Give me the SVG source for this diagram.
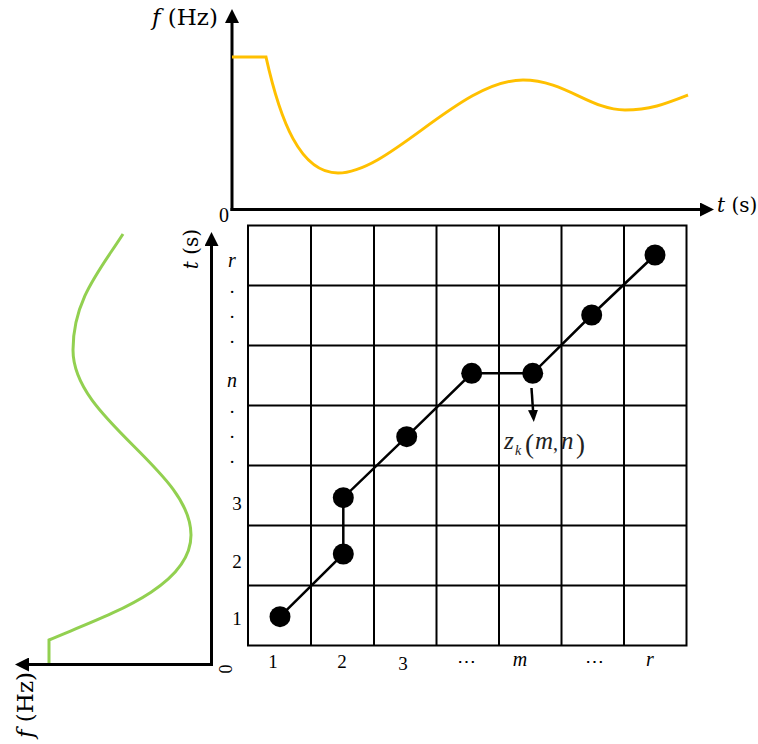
<svg xmlns="http://www.w3.org/2000/svg" width="758" height="744" viewBox="0 0 758 744">
<style>
.ax{stroke:#000;stroke-width:3;fill:none}
.grid{stroke:#000;stroke-width:2;fill:none}
.conn{stroke:#000;stroke-width:2.5;fill:none}
.dot{fill:#000}
.lbl{font-family:"DejaVu Serif","Liberation Serif",serif;font-size:20px;fill:#000}
.num{font-family:"Liberation Serif","Times New Roman",serif;font-size:19px;fill:#000}
.it{font-style:italic}
.z{font-family:"Liberation Serif",serif;fill:#222}
</style>
<defs>
<marker id="ah" viewBox="0 0 14 14" refX="0" refY="7" markerWidth="14" markerHeight="14" markerUnits="userSpaceOnUse" orient="auto">
<path d="M0,0 L14,7 L0,14 z" fill="#000"/>
</marker>
<marker id="sh" viewBox="0 0 12 10" refX="0" refY="5" markerWidth="12" markerHeight="10" markerUnits="userSpaceOnUse" orient="auto">
<path d="M0,0 L12,5 L0,10 z" fill="#000"/>
</marker>
</defs>
<rect width="758" height="744" fill="#fff"/>

<g id="top-chart">
<line class="ax" x1="232" y1="211" x2="232" y2="23" marker-end="url(#ah)"/>
<line class="ax" x1="230.5" y1="209.5" x2="700" y2="209.5" marker-end="url(#ah)"/>
<path d="M232,57 H266 C280,120 300,173 338,173 C390,173 460,80 523,80 C565,80 590,110 625,110 C650,110 665,104 688,95" stroke="#FFC000" stroke-width="3" fill="none"/>
<text class="lbl" x="152" y="25" style="font-size:23px"><tspan class="it">f</tspan> (Hz)</text>
<text class="num" x="224" y="222" text-anchor="middle" style="font-size:20px">0</text>
<text class="lbl" x="717" y="212"><tspan class="it">t</tspan> (s)</text>
</g>

<g id="left-chart">
<line class="ax" x1="211.5" y1="666" x2="211.5" y2="246" marker-end="url(#ah)"/>
<line class="ax" x1="213" y1="664.5" x2="29" y2="664.5" marker-end="url(#ah)"/>
<path d="M49,663 V640 C105,616 191,588 191,535 C191,470 73,420 73,350 C73,300 100,270 123,234" stroke="#92D050" stroke-width="3" fill="none"/>
<text class="lbl" transform="translate(198,249) rotate(-90)" text-anchor="middle"><tspan class="it">t</tspan> (s)</text>
<text class="lbl" transform="translate(33,705) rotate(-90)" text-anchor="middle" style="font-size:23px"><tspan class="it">f</tspan> (Hz)</text>
<text class="num" transform="translate(232,669) rotate(-90)" text-anchor="middle" style="font-size:18px">0</text>
</g>

<g id="grid">
<rect class="grid" x="248" y="225.5" width="438.5" height="420"/>
<path class="grid" d="M311,225.5V645.5 M374,225.5V645.5 M436.5,225.5V645.5 M499,225.5V645.5 M561.5,225.5V645.5 M624,225.5V645.5 M248,285.5H686.5 M248,345.5H686.5 M248,405.5H686.5 M248,465.5H686.5 M248,525.5H686.5 M248,585.5H686.5"/>
</g>

<g id="row-labels" class="num" text-anchor="middle">
<text class="it" x="232" y="267" font-size="20">r</text>
<text x="232" y="293">.</text>
<text x="232" y="318">.</text>
<text x="232" y="343">.</text>
<text class="it" x="232" y="387" font-size="20">n</text>
<text x="232" y="413">.</text>
<text x="232" y="438">.</text>
<text x="232" y="463">.</text>
<text x="237" y="510">3</text>
<text x="237" y="568">2</text>
<text x="237" y="625">1</text>
</g>

<g id="col-labels" class="num" text-anchor="middle">
<text x="273" y="668">1</text>
<text x="342" y="668">2</text>
<text x="403" y="670">3</text>
<text x="466" y="668">⋯</text>
<text class="it" x="520" y="666" font-size="20">m</text>
<text x="594" y="668">⋯</text>
<text class="it" x="650" y="666" font-size="20">r</text>
</g>

<g id="connectors">
<path class="conn" d="M280,616.7 L343.3,554 L343.3,497.7 L406.7,436.7 L471.7,373.3 L532.7,373.3 L591.7,315 L655,255"/>
<line x1="531.5" y1="388" x2="533" y2="410" stroke="#000" stroke-width="2.5" marker-end="url(#sh)"/>
</g>

<g id="path-nodes">
<circle id="n1" class="dot" cx="280" cy="616.7" r="10.5"/>
<circle id="n2" class="dot" cx="343.3" cy="554" r="10.5"/>
<circle id="n3" class="dot" cx="343.3" cy="497.7" r="10.5"/>
<circle id="n4" class="dot" cx="406.7" cy="436.7" r="10.5"/>
<circle id="n5" class="dot" cx="471.7" cy="373.3" r="10.5"/>
<circle id="n6" class="dot" cx="532.7" cy="373.3" r="10.5"/>
<circle id="n7" class="dot" cx="591.7" cy="315" r="10.5"/>
<circle id="n8" class="dot" cx="655" cy="255" r="10.5"/>
</g>

<g id="zk-label" class="z">
<text class="it" x="504" y="449" font-size="25">z</text>
<text class="it" x="515" y="455" font-size="14">k</text>
<text x="525" y="453" font-size="27">(</text>
<text class="it" x="535" y="449" font-size="25">m</text>
<text x="553" y="450" font-size="20">,</text>
<text class="it" x="561" y="449" font-size="25">n</text>
<text x="576" y="453" font-size="27">)</text>
</g>
</svg>
